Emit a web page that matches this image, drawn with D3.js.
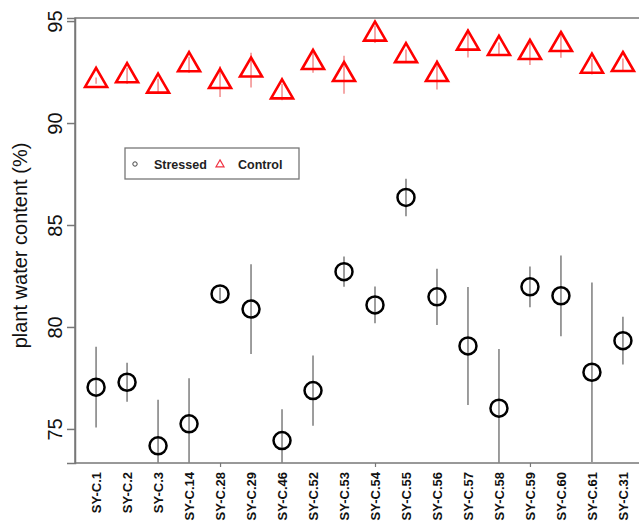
<!DOCTYPE html>
<html>
<head>
<meta charset="utf-8">
<script src="https://cdn.jsdelivr.net/npm/d3@7"></script>
<style>
  html, body { margin: 0; padding: 0; background: #fff; }
  svg { display: block; font-family: "Liberation Sans", Arial, sans-serif; }
</style>
</head>
<body>
<svg id="chart" width="639" height="522"></svg>
<script>
const categories = ["SY-C.1","SY-C.2","SY-C.3","SY-C.14","SY-C.28","SY-C.29","SY-C.46","SY-C.52","SY-C.53","SY-C.54","SY-C.55","SY-C.56","SY-C.57","SY-C.58","SY-C.59","SY-C.60","SY-C.61","SY-C.31"];
const stressedMean = [77.05, 77.29, 74.17, 75.25, 81.62, 80.88, 74.43, 76.88, 82.71, 81.08, 86.35, 81.48, 79.07, 76.02, 81.97, 81.53, 77.78, 79.33];
const stressedSd   = [1.98, 0.96, 2.26, 2.24, 0.30, 2.20, 1.54, 1.72, 0.74, 0.90, 0.92, 1.38, 2.89, 2.90, 1.00, 1.98, 4.40, 1.17];
const controlMean  = [92.08, 92.31, 91.80, 92.85, 92.03, 92.59, 91.52, 92.96, 92.37, 94.35, 93.30, 92.37, 93.91, 93.65, 93.45, 93.84, 92.78, 92.86];
const controlSd    = [0.15, 0.40, 0.37, 0.40, 0.75, 0.85, 0.40, 0.50, 0.93, 0.43, 0.30, 0.73, 0.70, 0.30, 0.60, 0.64, 0.40, 0.30];
const yTicks = [75, 80, 85, 90, 95];
const xTickIdx = [5, 10, 15];
const legendLabels = ["Stressed", "Control"];

(function () {
const svg = d3.select("#chart");
const pL = 75, pR = 644, pT = 18, pB = 463;

const x = d3.scaleLinear().domain([0.32, 18.68]).range([pL, pR]);
const y = d3.scaleLinear().domain([73.33, 95.15]).range([pB, pT]);

const axisColor = "#777";

svg.append("defs").append("clipPath").attr("id", "plotclip")
  .append("rect").attr("x", pL).attr("y", pT).attr("width", pR - pL).attr("height", pB - pT);

// frame
svg.append("rect").attr("x", pL).attr("y", pT).attr("width", pR - pL).attr("height", pB - pT)
  .attr("fill", "none").attr("stroke", axisColor).attr("stroke-width", 1.5);

// y axis
const yAxis = d3.axisLeft(y).tickValues(yTicks).tickSize(8).tickFormat(d3.format("d"));
const gy = svg.append("g").attr("transform", `translate(${pL},0)`).call(yAxis);
gy.select(".domain").attr("stroke", axisColor).attr("stroke-width", 1.5);
gy.selectAll(".tick line").attr("stroke", axisColor).attr("stroke-width", 1.5);
gy.selectAll(".tick text")
  .attr("font-size", 20).attr("fill", "#111")
  .attr("x", 0).attr("dy", 0)
  .attr("text-anchor", "middle")
  .attr("transform", "translate(-13,0) rotate(-90)");

// x axis ticks (numeric positions 5,10,15)
const xAxis = d3.axisBottom(x).tickValues(xTickIdx).tickSize(4).tickFormat("");
const gx = svg.append("g").attr("transform", `translate(0,${pB})`).call(xAxis);
gx.select(".domain").remove();
gx.selectAll(".tick line").attr("stroke", axisColor).attr("stroke-width", 1.2);

// x labels
svg.append("g").selectAll("text").data(categories).join("text")
  .attr("transform", (d, i) => `translate(${x(i + 1) + 5},${pB + 9}) rotate(-90)`)
  .attr("text-anchor", "end")
  .attr("font-size", 13).attr("font-weight", "bold").attr("fill", "#111")
  .text(d => d);

// y title
svg.append("text")
  .attr("transform", `translate(27,${(pT + pB) / 2 + 5}) rotate(-90)`)
  .attr("text-anchor", "middle").attr("font-size", 20).attr("fill", "#111")
  .text("plant water content (%)");

const plot = svg.append("g").attr("clip-path", "url(#plotclip)");

// stressed error bars
plot.append("g").selectAll("line").data(stressedMean).join("line")
  .attr("x1", (d, i) => x(i + 1)).attr("x2", (d, i) => x(i + 1))
  .attr("y1", (d, i) => y(d - stressedSd[i])).attr("y2", (d, i) => y(d + stressedSd[i]))
  .attr("stroke", "#858585").attr("stroke-width", 1.6);

// control error bars
plot.append("g").selectAll("line").data(controlMean).join("line")
  .attr("x1", (d, i) => x(i + 1)).attr("x2", (d, i) => x(i + 1))
  .attr("y1", (d, i) => y(d - controlSd[i])).attr("y2", (d, i) => y(d + controlSd[i]))
  .attr("stroke", "#f07a7a").attr("stroke-width", 1.3);

// stressed circles
plot.append("g").selectAll("circle").data(stressedMean).join("circle")
  .attr("cx", (d, i) => x(i + 1)).attr("cy", d => y(d)).attr("r", 8.5)
  .attr("fill", "none").attr("stroke", "#000").attr("stroke-width", 2.5);

// control triangles (centroid-centred)
function tri(cx, cy, hw) {
  const r = hw * 2 / Math.sqrt(3);
  const p = d3.path();
  p.moveTo(cx, cy - r);
  p.lineTo(cx + hw, cy + r / 2);
  p.lineTo(cx - hw, cy + r / 2);
  p.closePath();
  return p.toString();
}
plot.append("g").selectAll("path").data(controlMean).join("path")
  .attr("d", (d, i) => tri(x(i + 1), y(d), 11))
  .attr("fill", "none").attr("stroke", "#f00").attr("stroke-width", 2.6)
  .attr("stroke-linejoin", "miter");

// legend
const lg = svg.append("g");
lg.append("rect").attr("x", 125).attr("y", 148).attr("width", 174).attr("height", 31)
  .attr("fill", "#fff").attr("stroke", axisColor).attr("stroke-width", 1.3);
lg.append("circle").attr("cx", 135).attr("cy", 164).attr("r", 2.2)
  .attr("fill", "none").attr("stroke", "#444").attr("stroke-width", 1);
lg.append("path").attr("d", tri(220, 164.5, 4)).attr("fill", "none").attr("stroke", "#f03040").attr("stroke-width", 1.2);
lg.append("text").attr("x", 154).attr("y", 169).attr("font-size", 12.5).attr("font-weight", "bold").attr("fill", "#222").text(legendLabels[0]);
lg.append("text").attr("x", 238).attr("y", 169).attr("font-size", 12.5).attr("font-weight", "bold").attr("fill", "#222").text(legendLabels[1]);
})();
</script>
</body>
</html>
